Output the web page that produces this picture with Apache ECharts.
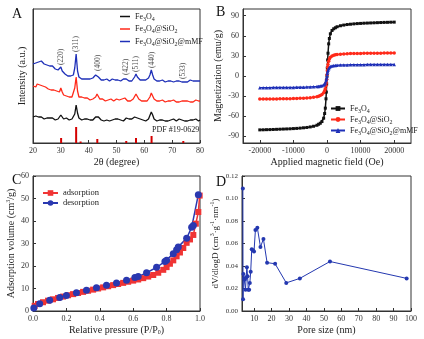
<!DOCTYPE html>
<html>
<head>
<meta charset="utf-8">
<script src="https://cdn.jsdelivr.net/npm/echarts@6/dist/echarts.min.js"></script>
<style>
html, body { margin: 0; padding: 0; background: #fff; }
#main { width: 424px; height: 339px; }
</style>
</head>
<body>
<div id="main"></div>
<script>
// ---------- A: XRD patterns, 2theta from 20 to 80 every 0.5 degree ----------
var xrdStart = 20, xrdStep = 0.5;
var xrdFe3O4 = [
  26, 25, 27, 25, 26, 24, 26, 25, 24, 26,
  25, 24, 25, 23, 25, 24, 23, 25, 24, 25,
  28, 26, 24, 23, 25, 24, 23, 25, 24, 26,
  29, 38, 30, 25, 24, 23, 25, 24, 23, 24,
  25, 23, 24, 23, 25, 26, 28, 26, 24, 23,
  24, 22, 24, 23, 24, 22, 24, 23, 22, 24,
  23, 24, 22, 23, 24, 22, 24, 25, 23, 24,
  22, 24, 25, 26, 28, 25, 23, 24, 22, 23,
  24, 22, 23, 24, 26, 31, 28, 24, 23, 22,
  24, 23, 22, 23, 24, 22, 23, 22, 24, 23,
  22, 24, 23, 22, 23, 24, 22, 23, 24, 22,
  23, 22, 24, 23, 22, 23, 22, 24, 23, 22,
  23
];
var xrdSiO2 = [
  57, 58, 56, 59, 57, 58, 56, 57, 55, 56,
  55, 54, 55, 53, 52, 53, 51, 52, 50, 51,
  55, 51, 48, 49, 47, 48, 46, 47, 46, 48,
  55, 66, 52, 46, 45, 46, 44, 45, 44, 45,
  44, 43, 45, 44, 45, 46, 49, 47, 44, 43,
  44, 43, 42, 44, 43, 42, 44, 43, 42, 43,
  44, 42, 43, 42, 44, 43, 45, 44, 42, 43,
  42, 43, 44, 46, 49, 47, 44, 43, 42, 43,
  42, 43, 42, 44, 46, 50, 47, 44, 43, 42,
  43, 42, 41, 43, 42, 41, 43, 42, 41, 42,
  41, 43, 42, 41, 42, 41, 43, 42, 41, 42,
  41, 42, 43, 41, 42, 41, 42, 43, 41, 42,
  42
];
var xrdMMF = [
  79, 81, 80, 82, 81, 80, 82, 80, 79, 80,
  78, 79, 77, 76, 77, 75, 74, 75, 73, 72,
  76, 72, 70, 69, 68, 67, 66, 67, 66, 68,
  75, 89, 72, 66, 65, 64, 65, 64, 63, 64,
  63, 64, 63, 65, 66, 68, 70, 66, 64, 63,
  64, 63, 62, 64, 63, 62, 63, 64, 62, 63,
  62, 63, 64, 62, 63, 64, 66, 64, 63, 62,
  63, 62, 64, 66, 69, 66, 64, 63, 62, 63,
  62, 63, 64, 65, 68, 73, 68, 64, 63, 62,
  63, 62, 61, 63, 62, 61, 63, 62, 61, 62,
  62, 61, 63, 62, 61, 62, 63, 61, 62, 61,
  62, 61, 62, 63, 61, 62, 61, 62, 61, 62,
  62
];
var pdfTheta = [30.1, 35.5, 37.1, 43.1, 53.5, 57.0, 62.6, 74.0];
var pdfInt = [5, 16, 1.5, 4, 2, 5, 7, 2];
var hklNames = ['(220)', '(311)', '(400)', '(422)', '(511)', '(440)', '(533)'];
var hklTheta = [30.1, 35.5, 43.2, 53.5, 57.1, 62.7, 74.0];

// ---------- B: magnetic hysteresis ----------
var fieldOe = [-20000, -19000, -18000, -17000, -16000, -15000, -14000, -13000, -12000,
  -11000, -10000, -9000, -8000, -7000, -6000, -5000, -4000, -3000,
  -2500, -2000, -1500, -1000, -700, -500, -300, -200, -100, 0,
  100, 200, 300, 500, 700, 1000, 1500, 2000, 2500, 3000,
  4000, 5000, 6000, 7000, 8000, 9000, 10000, 11000, 12000, 13000,
  14000, 15000, 16000, 17000, 18000, 19000, 20000];
var magFe3O4 = [-80.4, -80.3, -80.1, -80, -79.8, -79.6, -79.4, -79.2, -79,
  -78.8, -78.5, -78.2, -77.8, -77.3, -76.8, -76, -75, -73.5,
  -72, -70.5, -68, -63, -56, -48, -34, -24, -12, 0,
  12, 24, 34, 48, 56, 63, 68, 70.5, 72, 73.5,
  75, 76, 76.8, 77.3, 77.8, 78.2, 78.5, 78.8, 79, 79.2,
  79.4, 79.6, 79.8, 80, 80.1, 80.3, 80.4];
var magSiO2 = [-34.5, -34.4, -34.4, -34.3, -34.3, -34.2, -34.1, -34, -33.9,
  -33.8, -33.6, -33.5, -33.3, -33.1, -32.8, -32.4, -31.8, -31,
  -30.2, -29, -27.5, -25, -22, -19, -14, -10, -5, 2,
  8, 13, 17, 22, 25.5, 28, 30, 31, 31.6, 32,
  32.5, 32.9, 33.2, 33.4, 33.5, 33.6, 33.7, 33.8, 33.9, 34,
  34, 34.1, 34.1, 34.2, 34.2, 34.3, 34.3];
var magMMF = [-17.5, -17.5, -17.4, -17.4, -17.3, -17.3, -17.2, -17.2, -17.1,
  -17.1, -17, -16.9, -16.8, -16.7, -16.6, -16.4, -16.1, -15.8,
  -15.5, -15.1, -14.6, -13.5, -12, -10, -7, -5, -2.5, 0.5,
  4, 6.5, 8.5, 11, 12.8, 14, 15, 15.5, 15.8, 16,
  16.3, 16.5, 16.6, 16.7, 16.8, 16.8, 16.9, 16.9, 17, 17,
  17, 17.1, 17.1, 17.1, 17.2, 17.2, 17.2];
var fieldTicks = [-20000, -10000, 0, 10000, 20000];
var magTicks = [-90, -60, -30, 0, 30, 60, 90];

// ---------- C: N2 isotherm ----------
var adsP = [0.01, 0.03, 0.06, 0.09, 0.12, 0.15, 0.18, 0.21, 0.24, 0.27,
  0.30, 0.33, 0.36, 0.39, 0.42, 0.45, 0.48, 0.51, 0.54, 0.57,
  0.60, 0.63, 0.66, 0.69, 0.72, 0.75, 0.78, 0.80, 0.82, 0.84,
  0.86, 0.88, 0.90, 0.92, 0.94, 0.96, 0.975, 0.99, 0.998];
var adsV = [2.3, 3.1, 3.9, 4.6, 5.2, 5.8, 6.4, 7.0, 7.5, 8.0,
  8.5, 9.0, 9.5, 10.0, 10.5, 11.0, 11.5, 12.0, 12.5, 13.0,
  13.5, 14.0, 14.6, 15.3, 16.0, 17.0, 18.3, 19.5, 21.0, 22.5,
  24.3, 26.0, 28.0, 30.3, 31.8, 33.8, 38.8, 44.0, 51.3];
var desP = [0.005, 0.04, 0.1, 0.16, 0.2, 0.26, 0.32, 0.38, 0.44, 0.5,
  0.56, 0.61, 0.63, 0.68, 0.74, 0.79, 0.8, 0.84, 0.86, 0.87,
  0.92, 0.95, 0.96, 0.99];
var desV = [1.3, 3.2, 4.8, 6.0, 6.9, 8.1, 9.2, 10.3, 11.4, 12.4,
  13.7, 14.9, 15.3, 17.0, 19.4, 22.0, 22.6, 25.5, 27.2, 28.5,
  32.3, 37.2, 38.0, 51.7];

// ---------- D: pore size distribution ----------
var poreSize = [3.5, 3.6, 3.8, 4.2, 4.6, 5.0, 5.4, 5.8, 6.2, 6.6,
  7.1, 7.5, 8.0, 8.6, 9.3, 9.9, 10.7, 11.8, 13.6, 15.3,
  17.4, 22.0, 28.4, 36.2, 53.5, 97.5];
var poreDist = [0.109, 0.0105, 0.033, 0.029, 0.028, 0.019, 0.030, 0.039, 0.031, 0.019,
  0.019, 0.025, 0.035, 0.055, 0.054, 0.053, 0.072, 0.074, 0.057, 0.064,
  0.043, 0.042, 0.025, 0.029, 0.044, 0.029];
var poreTicks = [10, 20, 30, 40, 50, 60, 70, 80, 90, 100];

var serif = '"Liberation Serif", "DejaVu Serif", serif';
var black = '#111111', red = '#ff2a1a', blue = '#1f30b8';

function pairs(xs, ys) {
  return ys.map(function (y, i) { return [xs[i], y]; });
}
function xrdPairs(arr) {
  return arr.map(function (y, i) { return [xrdStart + i * xrdStep, y]; });
}

// label anchors sit just above the blue pattern's local maximum
var hklData = hklTheta.map(function (t) {
  var idx = Math.round((t - xrdStart) / xrdStep), top = 0;
  for (var k = idx - 1; k <= idx + 1; k++) top = Math.max(top, xrdMMF[k]);
  return [t, top + 2];
});

var richText = {
  sub: { fontSize: 6, lineHeight: 6, verticalAlign: 'bottom', fontFamily: serif },
  sup: { fontSize: 6, lineHeight: 6, verticalAlign: 'top', fontFamily: serif }
};
var legendNames = {
  A1: 'Fe{sub|3}O{sub|4}', A2: 'Fe{sub|3}O{sub|4}@SiO{sub|2}', A3: 'Fe{sub|3}O{sub|4}@SiO{sub|2}@mMF',
  B1: 'Fe{sub|3}O{sub|4}', B2: 'Fe{sub|3}O{sub|4}@SiO{sub|2}', B3: 'Fe{sub|3}O{sub|4}@SiO{sub|2}@mMF',
  C1: 'adsorption', C2: 'desorption'
};
function legendFmt(name) { return legendNames[name]; }

function baseX(i, min, max, name, gap) {
  return {
    gridIndex: i, type: 'value', min: min, max: max,
    name: name, nameLocation: 'middle', nameGap: gap,
    nameTextStyle: { fontFamily: serif, fontSize: 10, color: '#222', rich: richText },
    axisLine: { onZero: false, lineStyle: { color: '#333' } },
    axisTick: { inside: true, length: 3, lineStyle: { color: '#333' } },
    axisLabel: { fontFamily: serif, fontSize: 8, color: '#333', margin: 4 },
    splitLine: { show: false }
  };
}
function baseY(i, min, max, name, gap) {
  var ax = baseX(i, min, max, name, gap);
  ax.nameTextStyle.lineHeight = 12;
  return ax;
}

var xA = baseX(0, 20, 80, '2θ (degree)', 14); xA.interval = 10;
var xB = baseX(1, -25000, 25000, 'Applied magnetic field (Oe)', 14);
xB.axisTick.customValues = fieldTicks;
xB.axisLabel.customValues = fieldTicks;
xB.axisLabel.formatter = function (v) { return String(v); };
var xC = baseX(2, 0, 1, 'Relative pressure (P/P{sub|0})', 14); xC.interval = 0.2;
xC.axisLabel.formatter = function (v) { return v.toFixed(1); };
var xD = baseX(3, 3, 100, 'Pore size (nm)', 14);
xD.axisTick.customValues = poreTicks;
xD.axisLabel.customValues = poreTicks;

var yA = baseY(0, 0, 134, 'Intensity (a.u.)', 5);
yA.axisLabel.show = false; yA.axisTick.show = false;
var yB = baseY(1, -100, 100, 'Magnetization (emu/g)', 17);
yB.axisTick.customValues = magTicks;
yB.axisLabel.customValues = magTicks;
var yC = baseY(2, 0, 60, 'Adsorption volume (cm{sup|3}/g)', 11); yC.interval = 10;
var yD = baseY(3, 0, 0.12, 'dV/dlogD (cm{sup|3}·g{sup|-1}·nm{sup|-1})', 15); yD.interval = 0.02;
yD.axisLabel.formatter = function (v) { return v.toFixed(2); };
yD.axisLabel.fontSize = 7;
yD.nameTextStyle.fontSize = 9;

function gridBox(l, t, w, h) {
  return { left: l, top: t, width: w, height: h, show: true, borderColor: '#333', borderWidth: 1, backgroundColor: 'transparent' };
}

function letter(txt, x, y) {
  return { type: 'text', left: x, top: y, style: { text: txt, fontFamily: serif, fontSize: 14, fill: '#111' } };
}

var chart = echarts.init(document.getElementById('main'));
var option = {
  backgroundColor: '#ffffff',
  animation: false,
  grid: [gridBox(33, 9, 167, 134), gridBox(243, 9, 168, 134), gridBox(33, 176, 167, 135), gridBox(242, 176, 169, 135)],
  xAxis: [xA, xB, xC, xD],
  yAxis: [yA, yB, yC, yD],
  legend: [
    {
      data: ['A1', 'A2', 'A3'], orient: 'vertical', left: 120, top: 11, padding: 0,
      icon: 'rect', itemWidth: 10, itemHeight: 1.5, itemGap: 1.5, formatter: legendFmt,
      textStyle: { fontFamily: serif, fontSize: 8, lineHeight: 11, color: '#222', rich: richText }
    },
    {
      data: ['B1', 'B2', 'B3'], orient: 'vertical', left: 330, top: 103, padding: 0,
      itemWidth: 14, itemHeight: 6, itemGap: 0, formatter: legendFmt,
      textStyle: { fontFamily: serif, fontSize: 8, lineHeight: 11, color: '#222', rich: richText }
    },
    {
      data: ['C1', 'C2'], orient: 'vertical', left: 42, top: 188, padding: 0,
      itemWidth: 15, itemHeight: 7, itemGap: 0, formatter: legendFmt,
      textStyle: { fontFamily: serif, fontSize: 8.5, lineHeight: 10, color: '#222' }
    }
  ],
  graphic: [
    letter('A', 12, 7), letter('B', 216, 5), letter('C', 12, 173), letter('D', 216, 175),
    { type: 'text', left: 152, top: 126, style: { text: 'PDF #19-0629', fontFamily: serif, fontSize: 8, fill: '#222' } }
  ],
  series: [
    { name: 'A1', type: 'line', xAxisIndex: 0, yAxisIndex: 0, symbol: 'none', data: xrdPairs(xrdFe3O4), lineStyle: { color: black, width: 1.3 }, itemStyle: { color: black } },
    { name: 'A2', type: 'line', xAxisIndex: 0, yAxisIndex: 0, symbol: 'none', data: xrdPairs(xrdSiO2), lineStyle: { color: red, width: 1.3 }, itemStyle: { color: red } },
    { name: 'A3', type: 'line', xAxisIndex: 0, yAxisIndex: 0, symbol: 'none', data: xrdPairs(xrdMMF), lineStyle: { color: blue, width: 1.3 }, itemStyle: { color: blue } },
    { name: 'PDF', type: 'bar', xAxisIndex: 0, yAxisIndex: 0, barWidth: 2, data: pairs(pdfTheta, pdfInt), itemStyle: { color: '#d40000' } },
    {
      name: 'hkl', type: 'scatter', xAxisIndex: 0, yAxisIndex: 0, symbolSize: 0, data: hklData, silent: true,
      label: {
        show: true, position: 'top', distance: 0, rotate: 90, align: 'left', verticalAlign: 'middle',
        fontFamily: serif, fontSize: 7.5, color: '#222',
        formatter: function (p) { return hklNames[p.dataIndex]; }
      }
    },
    { name: 'B1', type: 'line', xAxisIndex: 1, yAxisIndex: 1, symbol: 'rect', symbolSize: 3, data: pairs(fieldOe, magFe3O4), lineStyle: { color: black, width: 1.5 }, itemStyle: { color: black } },
    { name: 'B2', type: 'line', xAxisIndex: 1, yAxisIndex: 1, symbol: 'circle', symbolSize: 3.5, data: pairs(fieldOe, magSiO2), lineStyle: { color: red, width: 1.5 }, itemStyle: { color: red } },
    { name: 'B3', type: 'line', xAxisIndex: 1, yAxisIndex: 1, symbol: 'triangle', symbolSize: 3.5, data: pairs(fieldOe, magMMF), lineStyle: { color: blue, width: 1.5 }, itemStyle: { color: blue } },
    { name: 'C1', type: 'line', xAxisIndex: 2, yAxisIndex: 2, symbol: 'rect', symbolSize: 6, data: pairs(adsP, adsV), lineStyle: { color: '#f03434', width: 1.5 }, itemStyle: { color: '#f03434' } },
    { name: 'C2', type: 'line', xAxisIndex: 2, yAxisIndex: 2, symbol: 'circle', symbolSize: 7, data: pairs(desP, desV), lineStyle: { color: '#2a38b0', width: 1.5 }, itemStyle: { color: '#2a38b0' } },
    { name: 'D1', type: 'line', xAxisIndex: 3, yAxisIndex: 3, symbol: 'circle', symbolSize: 4, data: pairs(poreSize, poreDist), lineStyle: { color: '#2438b0', width: 1 }, itemStyle: { color: '#2438b0' } }
  ]
};
chart.setOption(option);
window.addEventListener('resize', function () { chart.resize(); });
</script>
</body>
</html>
